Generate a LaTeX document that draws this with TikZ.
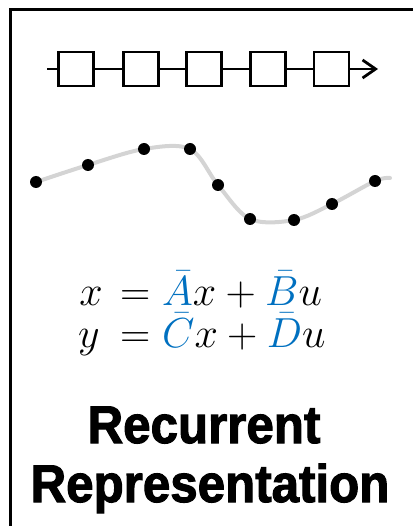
\RequirePackage{fix-cm}
\documentclass[tikz,border=0pt]{standalone}
\usepackage{fontspec}
\usetikzlibrary{arrows.meta}
\newfontfamily\titlefont[FakeStretch=0.93,FakeBold=2]{Liberation Sans Bold}
\definecolor{curvegray}{RGB}{212,212,212}
\definecolor{eqblue}{RGB}{0,112,192}
\begin{document}
\begin{tikzpicture}[x=1pt,y=-1pt,
  frame/.style={line width=3pt,line join=miter},
  cell/.style={draw,line width=2.8pt,minimum width=35pt,minimum height=34pt,inner sep=0pt},
  link/.style={line width=2.8pt},
  curve/.style={draw=curvegray,line width=4pt,line cap=round},
  dot/.style={circle,fill=black,minimum size=12pt,inner sep=0pt},
  eq/.style={inner sep=0pt,font=\fontsize{42}{44}\selectfont},
  title/.style={inner sep=0pt,anchor=base,font=\titlefont\fontsize{53}{53}\selectfont}]
\useasboundingbox (0,0) rectangle (412,526);
\draw[frame] (10,530) -- (10,10) -- (416,10);
% chain
\coordinate (cs) at (47,69);
\coordinate (ce) at (378,69);
\node[cell] (b1) at (76,69) {};
\node[cell] (b2) at (141,69) {};
\node[cell] (b3) at (204,69) {};
\node[cell] (b4) at (268,69) {};
\node[cell] (b5) at (331.5,69) {};
\draw[link] (cs) -- (b1);
\draw[link] (b1) -- (b2);
\draw[link] (b2) -- (b3);
\draw[link] (b3) -- (b4);
\draw[link] (b4) -- (b5);
\draw[link,-{Straight Barb[length=13pt,width=18pt,line width=2.8pt]}] (b5) -- (ce);
% curve
\coordinate (d1) at (36,182);
\coordinate (d2) at (88,165);
\coordinate (d3) at (144,149);
\coordinate (d4) at (190,149);
\coordinate (d5) at (218,185);
\coordinate (d6) at (250,219);
\coordinate (d7) at (294,220);
\coordinate (d8) at (332,204);
\coordinate (d9) at (375,181);
\coordinate (d10) at (390,178);
\draw[curve] plot[smooth,tension=0.55] coordinates {(d1) (d2) (d3) (d4) (d5) (d6) (d7) (d8) (d9) (d10)};
\foreach \i in {1,...,9} \node[dot] (p\i) at (d\i) {};
% equations
\node[eq,anchor=base east] (e1l) at (103,305) {$x$};
\node[eq,anchor=base west] (e1r) at (120,305) {$=\color{eqblue}\bar{A}\color{black}x+\color{eqblue}\bar{B}\color{black}u$};
\node[eq,anchor=base east] (e2l) at (100,347) {$y$};
\node[eq,anchor=base west] (e2r) at (120,347) {$=\color{eqblue}\bar{C}\color{black}x+\color{eqblue}\bar{D}\color{black}u$};
% title
\node[title] (t1) at (204,443) {Recurrent};
\node[title] (t2) at (210,502) {Representation};
\end{tikzpicture}
\end{document}
